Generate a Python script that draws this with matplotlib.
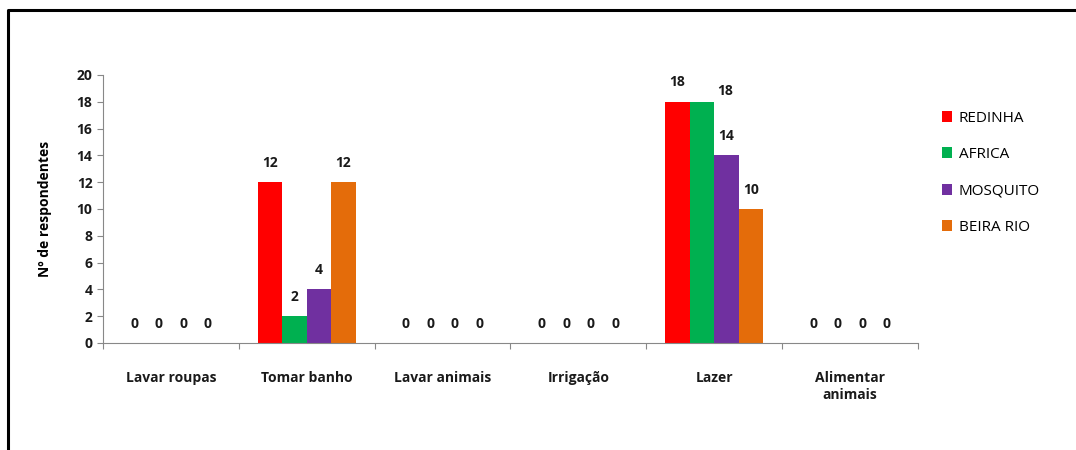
import numpy as np
import matplotlib
matplotlib.use('Agg')
import matplotlib.pyplot as plt
from matplotlib.lines import Line2D

plt.rcParams['font.family'] = ['Open Sans', 'DejaVu Sans']

categorias = ['Lavar roupas', 'Tomar banho', 'Lavar animais', 'Irrigação', 'Lazer', 'Alimentar\nanimais']
series = ['REDINHA', 'AFRICA', 'MOSQUITO', 'BEIRA RIO']
redinha = [0, 12, 0, 0, 18, 0]
africa = [0, 2, 0, 0, 18, 0]
mosquito = [0, 4, 0, 0, 14, 0]
beira_rio = [0, 12, 0, 0, 10, 0]
cores = ['#FF0000', '#00B050', '#7030A0', '#E46C0A']

valores = [redinha, africa, mosquito, beira_rio]

fig = plt.figure(figsize=(10.76, 4.5), dpi=100)
ax = fig.add_axes([103 / 1076, 1 - 343 / 450, (918 - 103) / 1076, (343 - 75) / 450])

x = np.arange(len(categorias))
largura = 0.18
for i, (nome, vals, cor) in enumerate(zip(series, valores, cores)):
    pos = x + (i - 1.5) * largura
    ax.bar(pos, vals, largura, color=cor, label=nome)
    for j, (p, v) in enumerate(zip(pos, vals)):
        dx, dy = 0, 9
        # rótulo deslocado manualmente no gráfico original
        if nome == 'AFRICA' and categorias[j] == 'Lazer':
            dx, dy = 17, 3
        ax.annotate(str(v), (p, v), xytext=(dx, dy), textcoords='offset points',
                    ha='center', va='bottom', fontsize=10, fontweight='bold', color='#1a1a1a')

ax.set_xlim(-0.5, len(categorias) - 0.5)
ax.set_ylim(0, 20)
ax.set_yticks(range(0, 21, 2))
ax.set_xticks(np.arange(len(categorias) + 1) - 0.5, minor=False)
ax.set_xticklabels([])
ax.set_xticks(x, minor=True)
ax.set_xticklabels(categorias, minor=True, fontsize=10, fontweight='bold', color='#1a1a1a',
                   linespacing=1.3)
ax.tick_params(axis='x', which='minor', length=0, pad=20)
ax.tick_params(axis='x', which='major', length=4, color='#888888')
ax.tick_params(axis='y', length=4, color='#888888', labelsize=10)
for lbl in ax.get_yticklabels():
    lbl.set_fontweight('bold')
    lbl.set_color('#1a1a1a')

for s in ['top', 'right']:
    ax.spines[s].set_visible(False)
for s in ['left', 'bottom']:
    ax.spines[s].set_color('#888888')

ax.set_ylabel('Nº de respondentes', fontsize=10, fontweight='bold', labelpad=18)

fig.legend(loc='upper left', bbox_to_anchor=(928 / 1076, 1 - 97 / 450), frameon=False,
           fontsize=11, handlelength=0.7, handleheight=0.7, labelspacing=1.4, handletextpad=0.4)

# moldura
fig.add_artist(Line2D([8 / 1076, 8 / 1076, 1], [0, 1 - 10 / 450, 1 - 10 / 450],
                      transform=fig.transFigure, color='black', lw=2.2))

fig.savefig('out.png', dpi=100)
